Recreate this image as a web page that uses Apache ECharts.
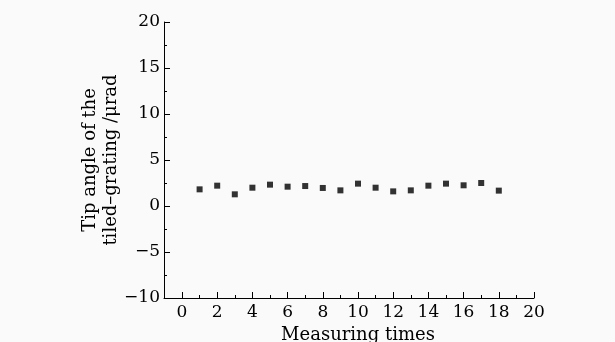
<!DOCTYPE html>
<html>
<head>
<meta charset="utf-8">
<script src="https://cdn.jsdelivr.net/npm/echarts@6/dist/echarts.min.js"></script>
<style>
  html, body { margin: 0; padding: 0; background: #fafafa; }
  #chart { width: 615px; height: 342px; }
</style>
</head>
<body>
<div id="chart"></div>
<script>
// measurement index and tip angle (urad)
var times = [1, 2, 3, 4, 5, 6, 7, 8, 9, 10, 11, 12, 13, 14, 15, 16, 17, 18];
var tipAngle = [1.81, 2.21, 1.27, 1.99, 2.32, 2.10, 2.17, 1.96, 1.70, 2.43, 1.99, 1.59, 1.70, 2.21, 2.43, 2.25, 2.50, 1.67];

var xName = 'Measuring times';
var yName = 'Tip angle of the\ntiled\u2013grating /\u03bcrad';

var font = 'DejaVu Serif';
var ink = '#000';

var points = times.map(function (t, i) { return [t, tipAngle[i]]; });

var myChart = echarts.init(document.getElementById('chart'));

var option = {
    backgroundColor: '#fafafa',
    animation: false,
    textStyle: { fontFamily: font, color: ink },
    grid: [
        { left: 182, right: 81, top: 22, bottom: 44, outerBoundsMode: 'none', containLabel: false },
        { left: 164, right: 81, top: 22, bottom: 44, outerBoundsMode: 'none', containLabel: false }
    ],
    xAxis: [
        {
            gridIndex: 0,
            type: 'value',
            min: 0,
            max: 20,
            interval: 2,
            name: xName,
            nameLocation: 'middle',
            nameGap: 26,
            nameTextStyle: { fontFamily: font, fontSize: 18, color: ink },
            axisLine: { show: false, onZero: false },
            axisTick: { show: true, inside: true, length: 6, lineStyle: { color: ink } },
            minorTick: { show: true, splitNumber: 2, length: 3, lineStyle: { color: ink } },
            axisLabel: { fontFamily: font, fontSize: 17, color: ink, margin: 6 },
            splitLine: { show: false }
        },
        {
            gridIndex: 1,
            type: 'value',
            min: 0,
            max: 1,
            axisLine: { show: true, onZero: false, lineStyle: { color: ink, width: 1 } },
            axisTick: { show: false },
            axisLabel: { show: false },
            splitLine: { show: false }
        }
    ],
    yAxis: [
        {
            gridIndex: 0,
            type: 'value',
            min: -10,
            max: 20,
            interval: 5,
            offset: 18,
            name: yName,
            nameLocation: 'middle',
            nameGap: 42,
            nameMoveOverlap: false,
            nameRotate: 90,
            nameTextStyle: { fontFamily: font, fontSize: 18, color: ink, lineHeight: 21 },
            axisLine: { show: true, onZero: false, lineStyle: { color: ink, width: 1 } },
            axisTick: { show: true, inside: true, length: 6, lineStyle: { color: ink } },
            minorTick: { show: true, splitNumber: 2, length: 3, lineStyle: { color: ink } },
            axisLabel: {
                fontFamily: font, fontSize: 17, color: ink, margin: 4,
                formatter: function (v) { return v < 0 ? '\u2212' + Math.abs(v) : String(v); }
            },
            splitLine: { show: false }
        },
        {
            gridIndex: 1,
            type: 'value',
            min: 0,
            max: 1,
            axisLine: { show: false, onZero: false },
            axisTick: { show: false },
            axisLabel: { show: false },
            splitLine: { show: false }
        }
    ],
    series: [
        {
            type: 'scatter',
            xAxisIndex: 0,
            yAxisIndex: 0,
            symbol: 'rect',
            symbolSize: 6,
            itemStyle: { color: '#000' },
            data: points
        }
    ]
};

option && myChart.setOption(option);
</script>
</body>
</html>
